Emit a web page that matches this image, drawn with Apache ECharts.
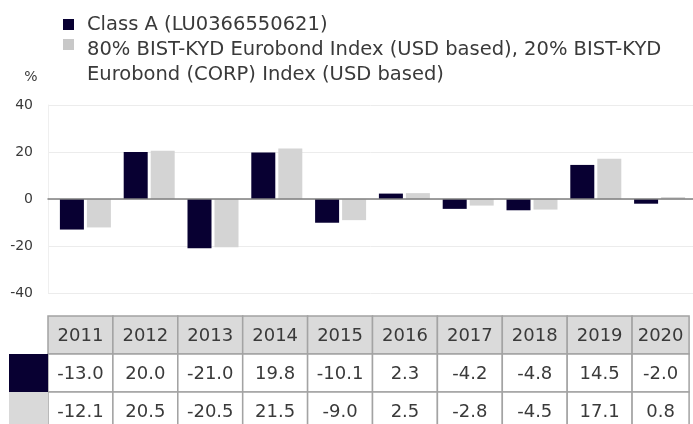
<!DOCTYPE html>
<html>
<head>
<meta charset="utf-8">
<script src="https://cdn.jsdelivr.net/npm/echarts@6/dist/echarts.min.js"></script>
<style>
html,body{margin:0;padding:0;background:#fff;}
#chart{width:693px;height:424px;}
</style>
</head>
<body>
<div id="chart"></div>
<script>
const categories = ['2011','2012','2013','2014','2015','2016','2017','2018','2019','2020'];
const seriesNames = ['Class A (LU0366550621)', '80% BIST-KYD Eurobond Index (USD based), 20% BIST-KYD\nEurobond (CORP) Index (USD based)'];
const classA = [-13.0, 20.0, -21.0, 19.8, -10.1, 2.3, -4.2, -4.8, 14.5, -2.0];
const benchmark = [-12.1, 20.5, -20.5, 21.5, -9.0, 2.5, -2.8, -4.5, 17.1, 0.8];
const yTicks = [-40, -20, 0, 20, 40];

const DARK = '#080032';
const LIGHT = '#d4d4d4';
const FONT = '"DejaVu Sans", Verdana, sans-serif';
const TXT = '#3a3a3a';

const chart = echarts.init(document.getElementById('chart'), null, {renderer: 'canvas'});

// table graphic
const graphics = [];
const colX = [48];
for (let i = 0; i < categories.length; i++) {
  colX.push(colX[i] + (i < categories.length - 1 ? 64.9 : 57));
}
const rowY = [316, 354, 392, 430];
const rows = [categories, classA.map(v => v.toFixed(1)), benchmark.map(v => v.toFixed(1))];
for (let r = 0; r < 3; r++) {
  for (let c = 0; c < categories.length; c++) {
    graphics.push({
      type: 'rect', silent: true,
      shape: {x: colX[c], y: rowY[r], width: colX[c+1]-colX[c], height: rowY[r+1]-rowY[r]},
      style: {fill: r === 0 ? '#dadada' : '#ffffff', stroke: '#a3a3a3', lineWidth: 1.5}
    });
    graphics.push({
      type: 'text', silent: true,
      x: (colX[c] + colX[c+1]) / 2, y: (rowY[r] + rowY[r+1]) / 2 + 1,
      style: {text: rows[r][c], fill: TXT, font: '18px ' + FONT, align: 'center', verticalAlign: 'middle'}
    });
  }
}
graphics.push({type:'rect', silent:true, shape:{x:9, y:354, width:39, height:38}, style:{fill:DARK}});
graphics.push({type:'rect', silent:true, shape:{x:9, y:392, width:39, height:38}, style:{fill:'#d9d9d9'}});
// legend
graphics.push({type:'rect', silent:true, shape:{x:63, y:19, width:11, height:11}, style:{fill:DARK}});
graphics.push({type:'text', silent:true, x:87, y:25, style:{text:seriesNames[0], fill:TXT, font:'19.5px ' + FONT, verticalAlign:'middle'}});
graphics.push({type:'rect', silent:true, shape:{x:63, y:39, width:11, height:11}, style:{fill:'#c8c8c8'}});
graphics.push({type:'text', silent:true, x:87, y:37, style:{text:seriesNames[1], fill:TXT, font:'19.5px ' + FONT, verticalAlign:'top', lineHeight:25}});
graphics.push({type:'text', silent:true, x:31, y:77, style:{text:'%', fill:TXT, font:'14px ' + FONT, align:'center', verticalAlign:'middle'}});

const option = {
  animation: false,
  backgroundColor: '#fff',
  grid: [
    {left: 48, right: 0, top: 105, height: 188},
    {left: 53.5, right: 1.5, top: 105, height: 188}
  ],
  xAxis: [
    {gridIndex: 0, type: 'category', data: categories, axisLabel: {show: false}, axisTick: {show: false},
     axisLine: {show: true, onZero: true, lineStyle: {color: '#7f7f7f', width: 1.5}}, z: 10},
    {gridIndex: 1, type: 'category', data: categories, show: false}
  ],
  yAxis: [
    {gridIndex: 0, type: 'value', min: yTicks[0], max: yTicks[yTicks.length-1], interval: 20,
     axisLine: {show: true, lineStyle: {color: '#efefef', width: 1}}, axisTick: {show: false},
     splitLine: {lineStyle: {color: '#ececec', width: 1}},
     axisLabel: {fontSize: 14, color: TXT, fontFamily: FONT, margin: 15}},
    {gridIndex: 1, type: 'value', min: yTicks[0], max: yTicks[yTicks.length-1], interval: 20, show: false, splitLine: {show: false}}
  ],
  series: [
    {name: seriesNames[0], type: 'bar', xAxisIndex: 1, yAxisIndex: 1, data: classA, barWidth: 24, barGap: '12.5%',
     itemStyle: {color: DARK}},
    {name: seriesNames[1], type: 'bar', xAxisIndex: 1, yAxisIndex: 1, data: benchmark, barWidth: 24, barGap: '12.5%',
     itemStyle: {color: LIGHT}}
  ],
  graphic: graphics
};
chart.setOption(option);
</script>
</body>
</html>
